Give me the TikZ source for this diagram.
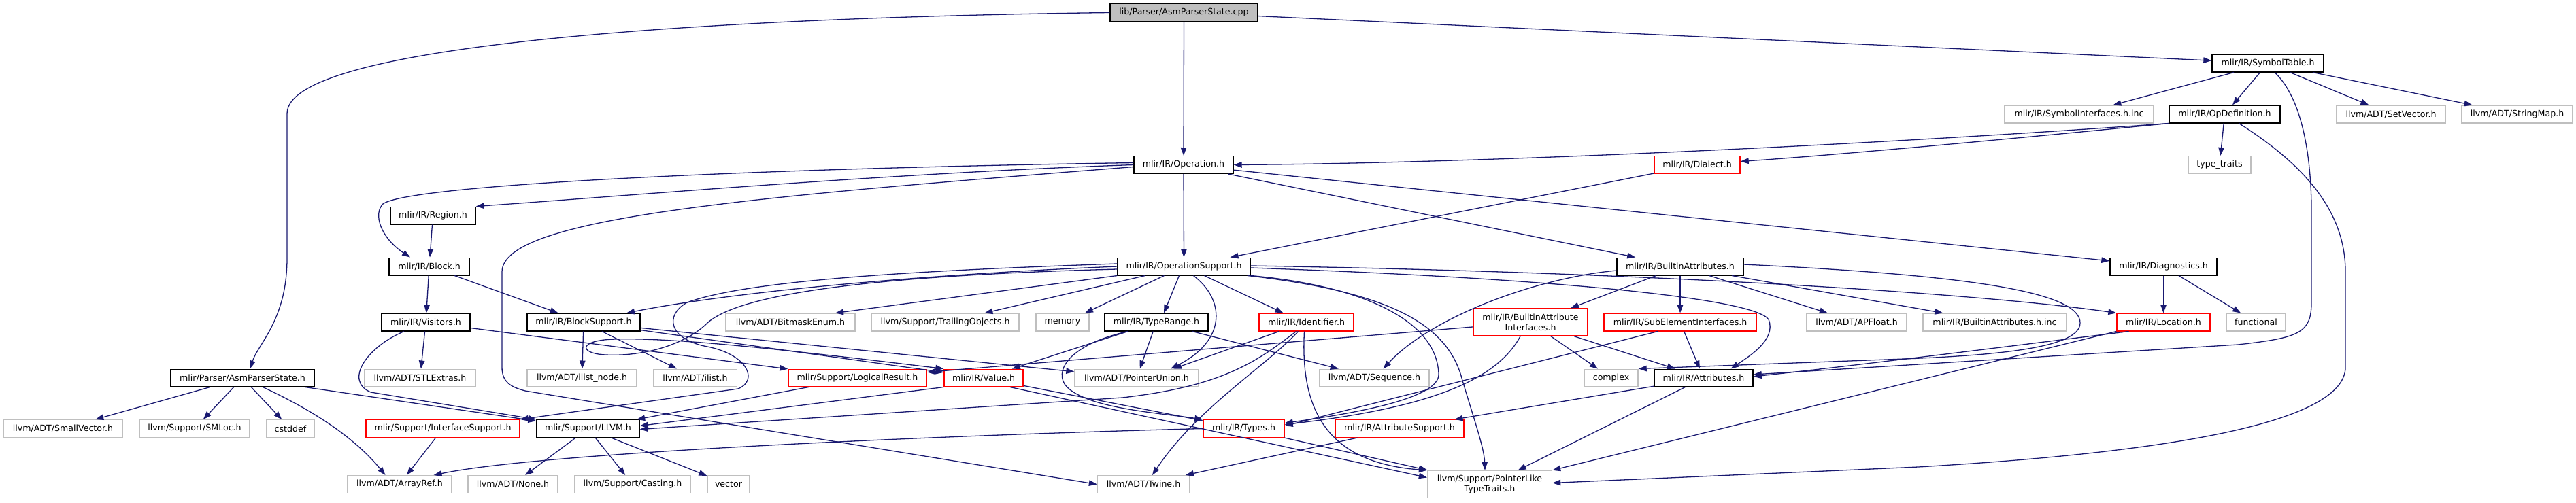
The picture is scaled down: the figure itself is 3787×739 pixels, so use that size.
\documentclass[tikz,border=0pt]{standalone}
\usepackage{fontspec}
\setmainfont{DejaVu Sans}
\usetikzlibrary{arrows.meta}
\definecolor{edgec}{HTML}{191970}
\definecolor{greyb}{HTML}{BFBFBF}
\begin{document}
\begin{tikzpicture}[x=1pt,y=-1pt,
  box/.style={rectangle, draw, line width=1.4pt, inner sep=0pt, minimum height=25.6pt,
    font=\fontsize{12.6}{15}\selectfont, align=center, fill=white},
  bnode/.style={box, draw=black},
  rnode/.style={box, draw=red},
  gnode/.style={box, draw=greyb},
  root/.style={box, draw=black, fill=greyb},
  edge/.style={draw=edgec, line width=1.3pt, -{Triangle[length=12pt,width=8.5pt]}}
]
\useasboundingbox (0,0) rectangle (3787,739);

% ---------- nodes ----------
\node[root, minimum width=217pt] (cpp) at (1740.5,18.5) {lib/Parser/AsmParserState.cpp};
\node[bnode, minimum width=164pt] (symtab) at (3334,93) {mlir/IR/SymbolTable.h};
\node[gnode, minimum width=219pt] (symif) at (3056.5,168) {mlir/IR/SymbolInterfaces.h.inc};
\node[bnode, minimum width=163pt] (opdef) at (3270.5,168) {mlir/IR/OpDefinition.h};
\node[gnode, minimum width=160pt] (setvec) at (3515,168) {llvm/ADT/SetVector.h};
\node[gnode, minimum width=163pt] (strmap) at (3700.5,168) {llvm/ADT/StringMap.h};
\node[bnode, minimum width=146pt] (operation) at (1740,242.5) {mlir/IR/Operation.h};
\node[rnode, minimum width=126pt] (dialect) at (2495,242.5) {mlir/IR/Dialect.h};
\node[gnode, minimum width=92pt] (typetraits) at (3263,242.5) {type\_traits};
\node[bnode, minimum width=125pt] (region) at (636.5,317) {mlir/IR/Region.h};
\node[bnode, minimum width=118pt] (block) at (631,392) {mlir/IR/Block.h};
\node[bnode, minimum width=195pt] (opsupport) at (1740.5,392) {mlir/IR/OperationSupport.h};
\node[bnode, minimum width=186pt] (builtinattr) at (2470,392) {mlir/IR/BuiltinAttributes.h};
\node[bnode, minimum width=157pt] (diag) at (3180.5,392) {mlir/IR/Diagnostics.h};
\node[bnode, minimum width=130pt] (visitors) at (626,474) {mlir/IR/Visitors.h};
\node[bnode, minimum width=166pt] (blocksupport) at (858,474) {mlir/IR/BlockSupport.h};
\node[gnode, minimum width=190pt] (bitmask) at (1162,474) {llvm/ADT/BitmaskEnum.h};
\node[gnode, minimum width=217pt] (trailing) at (1389.5,474) {llvm/Support/TrailingObjects.h};
\node[gnode, minimum width=78pt] (memory) at (1562,474) {memory};
\node[bnode, minimum width=152pt] (typerange) at (1700,474) {mlir/IR/TypeRange.h};
\node[rnode, minimum width=139pt] (identifier) at (1920.5,474) {mlir/IR/Identifier.h};
\node[rnode, minimum width=168pt, minimum height=40pt] (baif) at (2250,474) {mlir/IR/BuiltinAttribute\\Interfaces.h};
\node[rnode, minimum width=224pt] (subelem) at (2470,474) {mlir/IR/SubElementInterfaces.h};
\node[gnode, minimum width=147pt] (apfloat) at (2729.5,474) {llvm/ADT/APFloat.h};
\node[gnode, minimum width=211pt] (bainc) at (2932.5,474) {mlir/IR/BuiltinAttributes.h.inc};
\node[rnode, minimum width=137pt] (location) at (3180.5,474) {mlir/IR/Location.h};
\node[gnode, minimum width=87pt] (functional) at (3316.5,474) {functional};
\node[bnode, minimum width=211pt] (asmstate) at (356.5,556) {mlir/Parser/AsmParserState.h};
\node[gnode, minimum width=163pt] (stlextras) at (617.5,556) {llvm/ADT/STLExtras.h};
\node[gnode, minimum width=161pt] (ilistnode) at (855.5,556) {llvm/ADT/ilist\_node.h};
\node[gnode, minimum width=123pt] (ilist) at (1022,556) {llvm/ADT/ilist.h};
\node[rnode, minimum width=203pt] (logical) at (1260.5,556) {mlir/Support/LogicalResult.h};
\node[rnode, minimum width=116pt] (value) at (1446,556) {mlir/IR/Value.h};
\node[gnode, minimum width=182pt] (ptrunion) at (1671,556) {llvm/ADT/PointerUnion.h};
\node[gnode, minimum width=161pt] (sequence) at (2020.5,556) {llvm/ADT/Sequence.h};
\node[gnode, minimum width=79pt] (complex) at (2368.5,556) {complex};
\node[bnode, minimum width=145pt] (attributes) at (2504.5,556) {mlir/IR/Attributes.h};
\node[gnode, minimum width=175pt] (smallvec) at (92.5,630.5) {llvm/ADT/SmallVector.h};
\node[gnode, minimum width=162pt] (smloc) at (286,630.5) {llvm/Support/SMLoc.h};
\node[gnode, minimum width=70pt] (cstddef) at (427,630.5) {cstddef};
\node[rnode, minimum width=226pt] (ifsupport) at (651,630.5) {mlir/Support/InterfaceSupport.h};
\node[bnode, minimum width=151pt] (llvm) at (864.5,630.5) {mlir/Support/LLVM.h};
\node[rnode, minimum width=119pt] (types) at (1828.5,630.5) {mlir/IR/Types.h};
\node[rnode, minimum width=189pt] (attrsupport) at (2057.5,630.5) {mlir/IR/AttributeSupport.h};
\node[gnode, minimum width=153pt] (arrayref) at (587.5,712.5) {llvm/ADT/ArrayRef.h};
\node[gnode, minimum width=132pt] (none) at (754,712.5) {llvm/ADT/None.h};
\node[gnode, minimum width=170pt] (casting) at (930,712.5) {llvm/Support/Casting.h};
\node[gnode, minimum width=62pt] (vector) at (1071,712.5) {vector};
\node[gnode, minimum width=135pt] (twine) at (1681,712.5) {llvm/ADT/Twine.h};
\node[gnode, minimum width=183pt, minimum height=40pt] (plt) at (2190,712.5) {llvm/Support/PointerLike\\TypeTraits.h};

% ---------- edges ----------
% root
\draw[edge] (cpp.west) .. controls (1100,25) and (422,60) .. (422,167) -- (422,380) .. controls (422,470) and (380,505) .. ([xshift=11pt]asmstate.north);
\draw[edge] (cpp) -- (operation);
\draw[edge] (cpp) -- (symtab);

% SymbolTable.h
\draw[edge] (symtab) -- (symif);
\draw[edge] (symtab) -- (opdef);
\draw[edge] (symtab) -- (setvec);
\draw[edge] (symtab) -- (strmap);
\draw[edge] ([xshift=10pt]symtab.south) .. controls (3390,150) and (3398,250) .. (3398,310) -- (3398,445) .. controls (3398,490) and (3380,497) .. (3290,507) -- ([yshift=5pt]attributes.east);

% OpDefinition.h
\draw[edge] (opdef.south west) .. controls (2800,210) and (2200,240) .. (operation.east);
\draw[edge] (opdef.south west) .. controls (2950,205) and (2700,228) .. ([yshift=5pt]dialect.east);
\draw[edge] (opdef) -- (typetraits);
\draw[edge] ([xshift=21pt]opdef.south) .. controls (3400,250) and (3448,320) .. (3448,400) -- (3448,540) .. controls (3448,620) and (3200,665) .. (2820,687) -- ([yshift=2pt]plt.east);

% Operation.h
\draw[edge] (operation.west) .. controls (1300,255) and (900,290) .. (region.north east);
\draw[edge] ([yshift=3pt]operation.west) .. controls (1100,248) and (600,272) .. (563,300) .. controls (548,315) and (560,350) .. ([xshift=-28pt]block.north);
\draw[edge] ([yshift=-3pt]operation.west) .. controls (1100,290) and (738,320) .. (738,400) -- (738,540) .. controls (738,562) and (750,569) .. (772,575) -- (twine.west);
\draw[edge] (operation) -- (opsupport);
\draw[edge] (operation) -- (diag);
\draw[edge] (operation) -- (builtinattr);

% Dialect.h
\draw[edge] (dialect) -- (opsupport);

% Region.h, Block.h
\draw[edge] (region) -- (block);
\draw[edge] (block) -- (visitors);
\draw[edge] (block) -- (blocksupport);

% Visitors.h
\draw[edge] (visitors) -- (stlextras);
\draw[edge] ([xshift=-32pt]visitors.south) .. controls (540,510) and (505,560) .. (545,577) -- (llvm.north west);
\draw[edge] (visitors) -- (logical);

% AsmParserState.h
\draw[edge] (asmstate) -- (smallvec);
\draw[edge] (asmstate) -- (smloc);
\draw[edge] (asmstate) -- (cstddef);
\draw[edge] ([xshift=30pt]asmstate.south) .. controls (430,590) and (510,630) .. ([xshift=-21pt]arrayref.north);
\draw[edge] (asmstate) -- (llvm);

% BlockSupport.h
\draw[edge] (blocksupport) -- (ilistnode);
\draw[edge] (blocksupport) -- (ilist);
\draw[edge] (blocksupport) -- (value);
\draw[edge] (blocksupport) -- (ptrunion);

% OperationSupport.h
\draw[edge] (opsupport.west) .. controls (1400,402) and (1100,425) .. ([xshift=63pt]blocksupport.north);
\draw[edge] (opsupport.south west) -- ([xshift=66pt]bitmask.north);
\draw[edge] ([xshift=-57pt]opsupport.south) -- ([xshift=58pt]trailing.north);
\draw[edge] ([xshift=-29pt]opsupport.south) -- ([xshift=33pt]memory.north);
\draw[edge] ([xshift=-7pt]opsupport.south) -- ([xshift=11pt]typerange.north);
\draw[edge] ([xshift=14pt]opsupport.south) .. controls (1800,440) and (1805,500) .. ([xshift=50pt]ptrunion.north);
\draw[edge] ([xshift=30pt]opsupport.south) -- ([xshift=-34pt]identifier.north);
\draw[edge] ([yshift=-2pt]opsupport.east) .. controls (2300,410) and (2580,440) .. (2600,470) .. controls (2612,500) and (2570,525) .. ([xshift=40pt]attributes.north);
\draw[edge] ([yshift=1pt]opsupport.east) .. controls (2400,400) and (2900,430) .. (location.north west);
\draw[edge] (opsupport.south east) .. controls (2000,420) and (2112,470) .. (2115,550) .. controls (2118,590) and (1960,612) .. ([yshift=8pt]types.east);
\draw[edge] ([xshift=-5pt]opsupport.south east) .. controls (2050,430) and (2130,480) .. (2150,560) .. controls (2168,620) and (2182,660) .. ([xshift=-7pt]plt.north);
\draw[edge] ([yshift=-4pt]opsupport.west) .. controls (1300,405) and (1090,430) .. (1040,475) .. controls (1010,505) and (950,525) .. (890,522) .. controls (850,520) and (850,500) .. (905,499) .. controls (1000,496) and (1200,520) .. (value.north west);
\draw[edge] ([yshift=4pt]opsupport.west) .. controls (1350,398) and (1100,412) .. (1010,445) .. controls (975,465) and (985,500) .. (1040,510) .. controls (1100,522) and (1115,560) .. (1085,572) -- (ifsupport.north east);

% TypeRange.h
\draw[edge] (typerange) -- (value);
\draw[edge] (typerange) -- (ptrunion);
\draw[edge] (typerange) -- (sequence);
\draw[edge] ([xshift=-42pt]typerange.south) .. controls (1580,505) and (1550,540) .. (1565,565) .. controls (1590,600) and (1700,607) .. (types.north west);

% Identifier.h
\draw[edge] ([xshift=-40pt]identifier.south) -- ([xshift=54pt]ptrunion.north);
\draw[edge] ([xshift=-15pt]identifier.south) .. controls (1850,530) and (1800,568) .. (1650,585) -- ([yshift=-1pt]llvm.east);
\draw[edge] ([xshift=-12pt]identifier.south) .. controls (1860,540) and (1760,600) .. ([xshift=13pt]twine.north);
\draw[edge] ([xshift=-3pt]identifier.south) .. controls (1912,590) and (1940,680) .. (plt.north west);

% Value.h
\draw[edge] (value.south west) -- ([yshift=4pt]llvm.east);
\draw[edge] (value) -- (types);
\draw[edge] ([xshift=39pt]value.south) -- ([yshift=10pt]plt.west);

% LogicalResult.h
\draw[edge] (logical) -- (llvm);

% Types.h
\draw[edge] (types.west) .. controls (1400,640) and (800,665) .. ([xshift=50pt]arrayref.north);
\draw[edge] (types) -- (plt);

% InterfaceSupport.h, LLVM.h
\draw[edge] (ifsupport) -- (arrayref);
\draw[edge] (llvm) -- (none);
\draw[edge] (llvm) -- (casting);
\draw[edge] (llvm) -- (vector);

% AttributeSupport.h, Attributes.h
\draw[edge] (attrsupport) -- (twine);
\draw[edge] (attributes) -- (attrsupport);
\draw[edge] (attributes) -- (plt);

% BuiltinAttributeInterfaces.h
\draw[edge] (baif) -- (logical);
\draw[edge] (baif) -- (attributes);
\draw[edge] (baif) -- (complex);
\draw[edge] ([xshift=-15pt]baif.south) .. controls (2200,560) and (2100,600) .. ([yshift=6pt]types.east);

% SubElementInterfaces.h
\draw[edge] (subelem) -- (attributes);
\draw[edge] ([xshift=-33pt]subelem.south) -- ([yshift=4pt]types.east);

% BuiltinAttributes.h
\draw[edge] ([yshift=-6pt]builtinattr.west) .. controls (2250,410) and (2100,470) .. ([xshift=13pt]sequence.north);
\draw[edge] (builtinattr) -- ([xshift=59pt]baif.north);
\draw[edge] (builtinattr) -- (subelem);
\draw[edge] (builtinattr) -- (apfloat);
\draw[edge] (builtinattr) -- (bainc);
\draw[edge] ([yshift=3pt]builtinattr.east) .. controls (2900,405) and (3058,430) .. (3058,475) .. controls (3058,510) and (2950,522) .. (2800,528) -- (complex.north east);

% Diagnostics.h
\draw[edge] (diag) -- (location);
\draw[edge] (diag) -- (functional);

% Location.h
\draw[edge] ([xshift=-51pt]location.south) .. controls (2950,510) and (2750,535) .. ([yshift=2pt]attributes.east);
\draw[edge] (location.south west) -- (plt.north east);
\end{tikzpicture}
\end{document}
